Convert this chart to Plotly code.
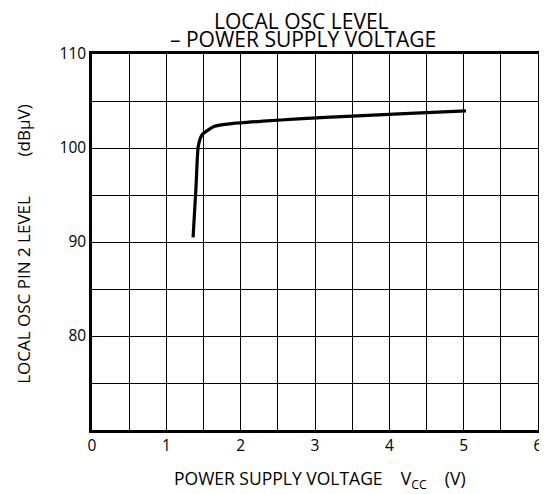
import plotly.graph_objects as go

vcc = [1.36, 1.40, 1.43, 1.48, 1.56, 1.64, 1.88, 2.3, 2.77, 3.5, 4.2, 5.03]
level = [90.5, 96.0, 100.2, 101.4, 101.9, 102.3, 102.6, 102.85, 103.1, 103.4, 103.65, 103.95]

x_ticks = [0, 1, 2, 3, 4, 5, 6]
y_ticks = [80, 90, 100, 110]

title_lines = ["LOCAL OSC LEVEL", "– POWER SUPPLY VOLTAGE"]
x_title = "POWER SUPPLY VOLTAGE    V<sub>CC</sub>    (V)"
y_title = "LOCAL OSC PIN 2 LEVEL         (dBμV)"

font = "Open Sans"
PLOT_H = 376.0  # plot area height in px
PLOT_W = 451.0

fig = go.Figure()
fig.add_trace(go.Scatter(x=vcc, y=level, mode="lines",
                         line=dict(color="black", width=3.2, shape="spline", smoothing=0.6),
                         showlegend=False, hoverinfo="skip"))

# page is offset by the browser's 8px body margin
fig.update_layout(
    width=539, height=486,
    margin=dict(l=84, r=4, t=46, b=64),
    paper_bgcolor="white", plot_bgcolor="white",
    font=dict(family=font, color="black"),
)

annots = [
    dict(text=title_lines[0], x=(304 - 92) / PLOT_W, y=1 + (54 - 21) / PLOT_H,
         font=dict(size=21)),
    dict(text=title_lines[1], x=(305 - 92) / PLOT_W, y=1 + (54 - 39) / PLOT_H,
         font=dict(size=21)),
    dict(text=x_title, x=(323 - 92) / PLOT_W, y=-(479 - 430) / PLOT_H,
         font=dict(size=17.5)),
    dict(text=y_title, x=-(92 - 23) / PLOT_W, y=(430 - 244) / PLOT_H,
         font=dict(size=17), textangle=-90),
]
for a in annots:
    fig.add_annotation(xref="paper", yref="paper", showarrow=False,
                       xanchor="center", yanchor="middle", **a)

fig.update_xaxes(
    range=[0, 6], tickvals=x_ticks, ticktext=[str(v) for v in x_ticks],
    showgrid=True, gridcolor="black", gridwidth=1.3,
    minor=dict(dtick=0.5, showgrid=True, gridcolor="black", gridwidth=1.3),
    showline=True, linecolor="black", linewidth=2.5, mirror=True,
    zeroline=False, ticks="", tickfont=dict(size=15.5, family=font),
)
fig.update_yaxes(
    range=[70, 110], tickvals=y_ticks, ticktext=[str(v) for v in y_ticks],
    showgrid=True, gridcolor="black", gridwidth=1.3,
    minor=dict(dtick=5, showgrid=True, gridcolor="black", gridwidth=1.3),
    showline=True, linecolor="black", linewidth=2.5, mirror=True,
    zeroline=False, ticks="", tickfont=dict(size=15.5, family=font),
)

fig.write_html("out.html")
